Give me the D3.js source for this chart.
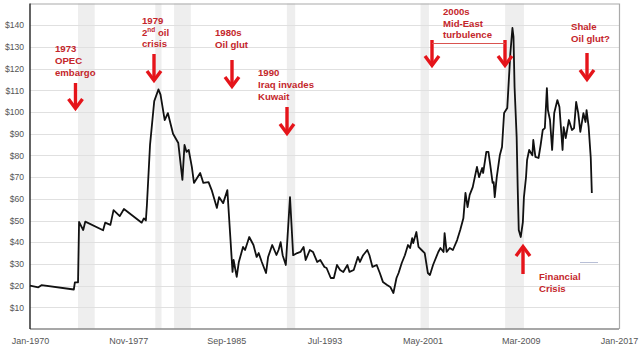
<!DOCTYPE html>
<html><head><meta charset="utf-8">
<script src="https://cdn.jsdelivr.net/npm/d3@7"></script>
<style>body{margin:0;background:#fff} svg{display:block}</style>
</head><body><svg id="c" width="640" height="360"></svg>
<script>
const dates = ["1970-01","1970-09","1970-12","1973-07","1973-08","1973-11","1973-12","1974-04","1974-06","1975-11",
"1976-01","1976-06","1976-09","1977-03","1977-07","1978-12","1979-02","1979-04","1979-05","1979-08",
"1979-10","1979-12","1980-04","1980-06","1980-10","1981-01","1981-06","1981-11","1982-03","1982-05",
"1982-07","1982-09","1982-12","1983-02","1983-08","1983-11","1984-04","1984-07","1984-12","1985-02",
"1985-06","1985-10","1986-01","1986-03","1986-04","1986-07","1986-09","1987-01","1987-03","1987-07",
"1987-11","1988-02","1988-04","1988-07","1988-11","1989-01","1989-05","1989-09","1989-11","1990-01",
"1990-03","1990-06","1990-10","1991-01","1991-05","1991-08","1991-11","1992-01","1992-05","1992-08",
"1992-12","1993-03","1993-07","1993-09","1994-01","1994-04","1994-07","1994-10","1995-01","1995-05",
"1995-07","1995-11","1996-03","1996-05","1996-08","1996-12","1997-02","1997-05","1997-09","1997-12",
"1998-03","1998-07","1998-10","1999-01","1999-04","1999-06","1999-09","1999-12","2000-03","2000-05",
"2000-07","2000-08","2000-11","2001-01","2001-04","2001-07","2001-10","2001-12","2002-03","2002-08",
"2002-10","2003-01","2003-02","2003-04","2003-07","2003-10","2004-02","2004-05","2004-08","2004-10",
"2004-12","2005-02","2005-05","2005-09","2005-11","2006-02","2006-03","2006-06","2006-08","2006-10",
"2006-12","2007-01","2007-02","2007-04","2007-07","2007-09","2007-11","2008-02","2008-05","2008-07",
"2008-08","2008-09","2008-11","2008-12","2009-01","2009-03","2009-05","2009-06","2009-08","2009-09",
"2009-11","2010-02","2010-03","2010-05","2010-08","2010-10","2010-12","2011-02","2011-04","2011-05",
"2011-07","2011-09","2011-11","2012-02","2012-04","2012-07","2012-08","2012-10","2013-01","2013-04",
"2013-06","2013-08","2013-10","2013-12","2014-03","2014-05","2014-06","2014-08","2014-10","2014-11"];
const prices = [20,19.2,20.2,18.2,21.5,21.5,49.3,45.6,49.5,45.5,
49,48,54.8,52,55.3,49,51,50,57,85,
95,105,110.4,108,96.3,99.5,90,85.7,68.7,84.8,
81.6,82.5,74.7,67.3,71.9,67.3,67.7,64,55.8,60.8,
58,64,41,26.3,31.8,24,30.9,37.8,36.4,42.4,
38.7,33.2,35,30.9,25.8,33.2,38.7,34.1,36.4,40,
34,29.5,60.8,34,35,35.5,37.8,31.8,36.4,35.5,
30.9,31.8,28.6,28.1,23.5,23.5,29.5,27.2,26.3,29.5,
26.3,27.2,33.2,30.9,34,36.4,34,28.6,29.5,25.8,
21.7,20.3,19.4,16.6,23.5,25.8,30.4,34,38.7,37.3,
41.9,39.6,44.7,37.8,36.4,35,25.8,24.9,29.5,35.5,
37.3,35.5,44.2,35.5,37.3,36.4,41,45.6,51,62.7,
56.2,61.8,65.4,74.7,70,74.2,71.9,81.6,81.6,74.7,
67.3,67.7,60.8,70,80.2,83.9,99.5,101.8,127,138.7,
134.6,111.5,88.5,65.4,45.6,42.4,49.3,60.8,70,77.9,
82.5,80,87.1,79.3,78.8,84.8,91.7,92.6,111,100.9,
96.3,82.5,99.5,105.5,102.3,82.5,93,88,96.3,91.7,
92.6,104.6,99.5,90.8,99.5,95.4,100.9,93,78.8,62.7];
const yTicks = [10,20,30,40,50,60,70,80,90,100,110,120,130,140];
const xTickLabels = ["Jan-1970","Nov-1977","Sep-1985","Jul-1993","May-2001","Mar-2009","Jan-2017"];
const recessionStarts = ["1973-11","1980-01","1981-07","1990-07","2001-03","2007-12"];
const recessionEnds   = ["1975-03","1980-07","1982-11","1991-03","2001-11","2009-06"];
const annotationTexts = [
  ["1973","OPEC","embargo"],
  ["1979","2|nd| oil","crisis"],
  ["1980s","Oil glut"],
  ["1990","Iraq invades","Kuwait"],
  ["2000s","Mid-East","turbulence"],
  ["Shale","Oil glut?"],
  ["Financial","Crisis"]
];

const pm = d3.timeParse("%Y-%m");
const pl = d3.timeParse("%b-%Y");
const data = dates.map((d,i)=>({date:pm(d), v:prices[i]}));

const svg = d3.select("#c");
const L=30, R=619, T=3.5, B=329;
const x = d3.scaleTime().domain([pl("Jan-1970"), pl("Jan-2017")]).range([L,R]);
const y = d3.scaleLinear().domain([0,150]).range([B,T]);

// recession bands
svg.append("g").selectAll("rect").data(recessionStarts).join("rect")
  .attr("x", (d)=>x(pm(d)))
  .attr("width", (d,i)=>x(pm(recessionEnds[i]))-x(pm(d)))
  .attr("y", T).attr("height", B-T)
  .attr("fill", "#eeeeee");

// grid
svg.append("g").selectAll("line").data(yTicks).join("line")
  .attr("x1", L).attr("x2", R)
  .attr("y1", d=>Math.round(y(d))+0.5).attr("y2", d=>Math.round(y(d))+0.5)
  .attr("stroke", "#e0e0e0").attr("stroke-width", 1);

// border top/right
svg.append("path").attr("d", `M${L},${T+0.5}H${R+0.5}V${B}`)
  .attr("fill","none").attr("stroke","#aaaaaa").attr("stroke-width",1.2);

// small stray line
svg.append("line").attr("x1",580).attr("x2",598).attr("y1",262.5).attr("y2",262.5)
  .attr("stroke","#b8bfd6").attr("stroke-width",1);

// y axis
const yAxis = d3.axisLeft(y).tickValues(yTicks).tickSize(0).tickPadding(6).tickFormat(d=>"$"+d);
const gy = svg.append("g").attr("transform",`translate(${L},0)`).call(yAxis);
gy.select(".domain").remove();
gy.selectAll("text").attr("font-family","Liberation Sans, Arial, sans-serif").attr("font-size","8.6px").attr("fill","#555");

// x axis
const xAxis = d3.axisBottom(x).tickValues(xTickLabels.map(pl)).tickSize(0).tickPadding(9)
  .tickFormat(d3.timeFormat("%b-%Y"));
const gx = svg.append("g").attr("transform",`translate(0,${B})`).call(xAxis);
gx.select(".domain").remove();
gx.selectAll("text").attr("font-family","Liberation Sans, Arial, sans-serif").attr("font-size","9px").attr("fill","#555");

// axes lines
svg.append("line").attr("x1",L).attr("x2",R).attr("y1",B).attr("y2",B).attr("stroke","#8a8a8a").attr("stroke-width",1.4);
svg.append("line").attr("x1",L).attr("x2",L).attr("y1",T).attr("y2",B).attr("stroke","#222").attr("stroke-width",1.4);

// price line
const line = d3.line().x(d=>x(d.date)).y(d=>y(d.v));
svg.append("path").datum(data).attr("d", line)
  .attr("fill","none").attr("stroke","#111").attr("stroke-width",1.8).attr("stroke-linejoin","round");

// annotations
const textColor = "#c4262b", arrowColor = "#e5141a";
const layout = [
  {x:55, y:52, lh:12},
  {x:142, y:24, lh:11.5},
  {x:215, y:36, lh:12},
  {x:258, y:76, lh:12},
  {x:443, y:15, lh:11.5},
  {x:571, y:30, lh:11.5},
  {x:539, y:280, lh:11.5}
];
annotationTexts.forEach((lines,i)=>{
  const p = layout[i];
  const t = svg.append("text").attr("x",p.x).attr("y",p.y)
    .attr("font-family","Liberation Sans, Arial, sans-serif").attr("font-weight","bold")
    .attr("font-size","9.6px").attr("fill",textColor);
  lines.forEach((ln,j)=>{
    if (ln.includes("|")) {
      const parts = ln.split("|");
      t.append("tspan").attr("x",p.x).attr("dy", j===0?0:p.lh).text(parts[0]);
      t.append("tspan").attr("font-size","6.5px").attr("dy",-3.5).text(parts[1]);
      t.append("tspan").attr("dy",3.5).text(parts[2]);
    } else {
      t.append("tspan").attr("x",p.x).attr("dy", j===0?0:p.lh).text(ln);
    }
  });
});

function arrow(ax, y1, y2){
  const dir = y2>y1 ? 1 : -1;
  const g = svg.append("g").attr("stroke",arrowColor).attr("fill","none").attr("stroke-width",3.4);
  g.append("line").attr("x1",ax).attr("x2",ax).attr("y1",y1).attr("y2",y2-dir*2);
  g.append("path").attr("d",`M${ax-7},${y2-dir*11}L${ax},${y2-dir*1.5}L${ax+7},${y2-dir*11}`)
    .attr("stroke-linejoin","miter");
}
arrow(75.5, 83, 110);
arrow(154, 54, 82);
arrow(232, 60, 88);
arrow(287, 107, 135);
arrow(432, 40, 67);
arrow(505, 40, 67);
arrow(587, 53, 81);
arrow(523, 274, 245);
svg.append("line").attr("x1",432).attr("x2",505).attr("y1",43.5).attr("y2",43.5)
  .attr("stroke","#d9534f").attr("stroke-width",1);
</script></body></html>
